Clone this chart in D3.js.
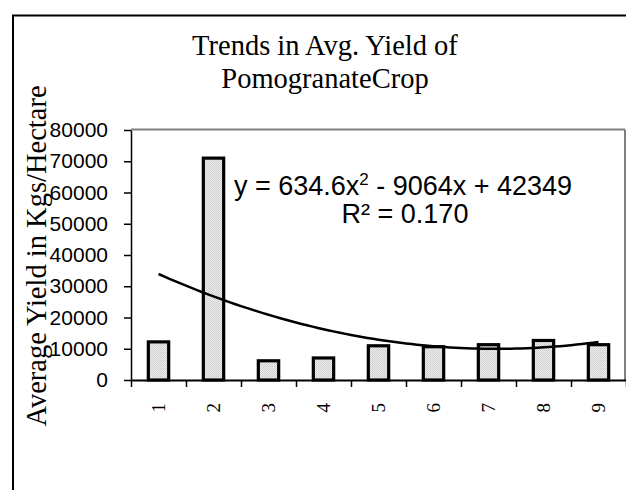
<!DOCTYPE html>
<html>
<head>
<meta charset="utf-8">
<script src="https://cdn.jsdelivr.net/npm/d3@7"></script>
<style>
  html, body { margin: 0; padding: 0; background: #fff; }
  svg { display: block; }
</style>
</head>
<body>
<svg id="chart" width="626" height="490"></svg>
<script>
// ---- data ----
const years = ["1", "2", "3", "4", "5", "6", "7", "8", "9"];
const yields = [12200, 71000, 6150, 7050, 10950, 10650, 11300, 12650, 11300];
const yTicks = [0, 10000, 20000, 30000, 40000, 50000, 60000, 70000, 80000];
const trendCoef = [634.6, -9064, 42349]; // a x^2 + b x + c
const titleLines = ["Trends in Avg. Yield of", "PomogranateCrop"];
const yTitle = "Average Yield in Kgs/Hectare";

// ---- layout ----
const svg = d3.select("#chart");
const plot = { left: 131, right: 626, top: 130, bottom: 380 };

const x = d3.scaleBand().domain(years).range([plot.left, plot.right]).padding(0);
const xLin = d3.scaleLinear().domain([0.5, years.length + 0.5]).range([plot.left, plot.right]);
const y = d3.scaleLinear().domain([0, 80000]).range([plot.bottom, plot.top]);

// pattern for bars (stippled light gray)
const defs = svg.append("defs");
const pat = defs.append("pattern").attr("id", "dots").attr("patternUnits", "userSpaceOnUse")
  .attr("width", 2).attr("height", 2);
pat.append("rect").attr("width", 2).attr("height", 2).attr("fill", "#ececec");
pat.append("rect").attr("x", 0).attr("y", 0).attr("width", 1).attr("height", 1).attr("fill", "#cacaca");
pat.append("rect").attr("x", 1).attr("y", 1).attr("width", 1).attr("height", 1).attr("fill", "#d6d6d6");

// outer chart border (extends beyond the window on right/bottom)
svg.append("rect").attr("x", 13).attr("y", 15.5).attr("width", 700).attr("height", 600)
  .attr("fill", "none").attr("stroke", "#000").attr("stroke-width", 2);

// plot area border (gray top/right)
svg.append("line").attr("x1", plot.left).attr("x2", plot.right - 1)
  .attr("y1", plot.top - 0.5).attr("y2", plot.top - 0.5)
  .attr("stroke", "#808080").attr("stroke-width", 2);
svg.append("line").attr("x1", plot.right - 1).attr("x2", plot.right - 1)
  .attr("y1", plot.top - 0.5).attr("y2", plot.bottom)
  .attr("stroke", "#808080").attr("stroke-width", 2);

// title
const title = svg.append("text").attr("text-anchor", "middle")
  .attr("font-family", "'Liberation Serif', 'Times New Roman', serif")
  .attr("font-size", 28.5).attr("fill", "#000");
titleLines.forEach((t, i) => {
  title.append("tspan").attr("x", 325).attr("y", 55 + i * 33).text(t);
});

// y axis title
svg.append("text")
  .attr("transform", "translate(46,256) rotate(-90)")
  .attr("text-anchor", "middle")
  .attr("font-family", "'Liberation Serif', 'Times New Roman', serif")
  .attr("font-size", 28.5).attr("fill", "#000")
  .text(yTitle);

// y axis
const yAxis = svg.append("g").attr("transform", `translate(${plot.left},0)`)
  .call(d3.axisLeft(y).tickValues(yTicks).tickSize(7).tickSizeOuter(0).tickPadding(16)
    .tickFormat(d3.format("d")));
yAxis.select(".domain").attr("stroke", "#000").attr("stroke-width", 1.5);
yAxis.selectAll(".tick line").attr("stroke", "#000").attr("stroke-width", 1.5);
yAxis.selectAll(".tick text").attr("font-family", "'Liberation Sans', Arial, sans-serif")
  .attr("font-size", 21).attr("fill", "#000");

// bars
const barW = x.bandwidth() * 0.37;
svg.append("g").selectAll("rect").data(yields).join("rect")
  .attr("x", (d, i) => x(years[i]) + x.bandwidth() / 2 - barW / 2)
  .attr("y", d => y(d))
  .attr("width", barW)
  .attr("height", d => y(0) - y(d))
  .attr("fill", "url(#dots)")
  .attr("stroke", "#000").attr("stroke-width", 3.2);

// x axis (boundary ticks)
const bounds = d3.range(years.length + 1).map(i => i + 0.5);
const xAxis = svg.append("g").attr("transform", `translate(0,${plot.bottom})`)
  .call(d3.axisBottom(xLin).tickValues(bounds).tickSize(7).tickSizeOuter(0).tickFormat(""));
xAxis.select(".domain").attr("stroke", "#000").attr("stroke-width", 2);
xAxis.selectAll(".tick line").attr("stroke", "#000").attr("stroke-width", 1.5);

// x labels (rotated)
svg.append("g").selectAll("text").data(years).join("text")
  .attr("transform", d => `translate(${x(d) + x.bandwidth() / 2},403) rotate(-90)`)
  .attr("text-anchor", "end")
  .attr("dy", "0.34em")
  .attr("font-family", "'Liberation Serif', 'Times New Roman', serif")
  .attr("font-size", 19).attr("fill", "#000")
  .text(d => d);

// polynomial trendline
const trendFn = v => trendCoef[0] * v * v + trendCoef[1] * v + trendCoef[2];
const tx = d3.range(1, years.length + 0.001, 0.1);
svg.append("path")
  .datum(tx)
  .attr("d", d3.line().x(v => xLin(v)).y(v => y(trendFn(v))).curve(d3.curveLinear))
  .attr("fill", "none").attr("stroke", "#000").attr("stroke-width", 2.5);

// equation label
const eq = svg.append("text").attr("text-anchor", "middle")
  .attr("font-family", "'Liberation Sans', Arial, sans-serif")
  .attr("font-size", 27).attr("fill", "#000");
const eqLine = eq.append("tspan").attr("x", 403).attr("y", 195);
eqLine.append("tspan").text(`y = ${trendCoef[0]}x`);
eqLine.append("tspan").attr("font-size", 17).attr("dy", -10).text("2");
eqLine.append("tspan").attr("dy", 10).text(` - ${Math.abs(trendCoef[1])}x + ${trendCoef[2]}`);
eq.append("tspan").attr("x", 405).attr("y", 223).text("R² = 0.170");
</script>
</body>
</html>
